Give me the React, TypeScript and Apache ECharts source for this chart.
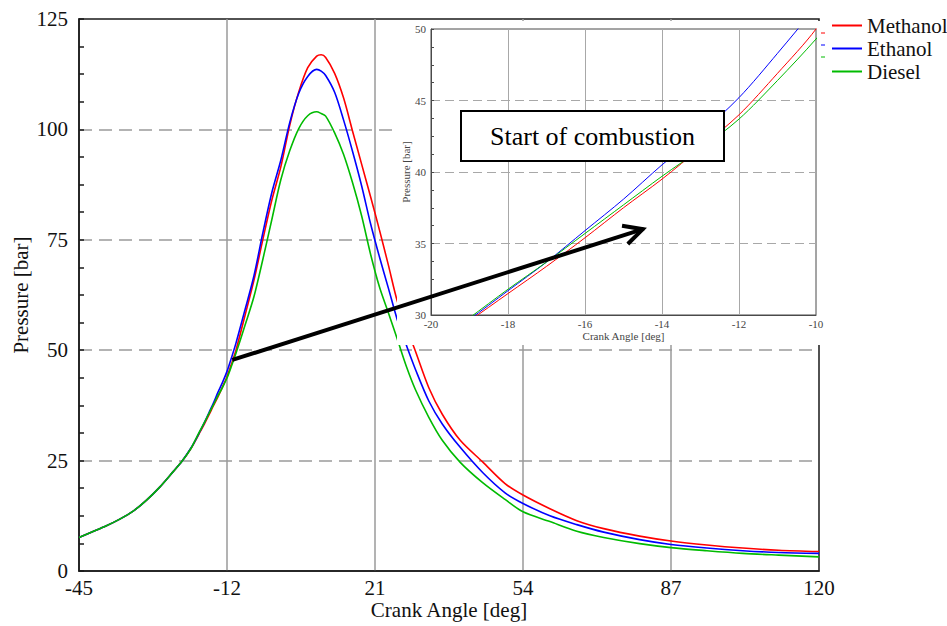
import { useEffect, useRef } from "react";
import * as echarts from "echarts";

// ---- data ----
const crankAngles = [-45, -42, -39, -36, -33, -30, -27, -24, -22, -20, -19, -18, -17, -16, -15, -14, -13, -12, -11, -10, -8, -6, -4, -2, 0, 2, 4, 6, 8, 9, 10, 12, 14, 16, 18, 20, 22, 24, 26, 28, 30, 33, 36, 40, 45, 50, 54, 60, 66, 72, 80, 87, 95, 103, 111, 120];

const methanolPressure = [7.6, 8.9, 10.2, 11.7, 13.5, 16.0, 19.0, 22.5, 24.9, 27.8, 29.6, 31.5, 33.4, 35.4, 37.5, 39.5, 41.7, 44.0, 46.9, 50.0, 57.8, 65.8, 75.1, 84.0, 91.5, 101.0, 108.5, 114.0, 116.6, 116.9, 116.3, 112.7, 107.1, 99.6, 92.2, 84.8, 77.2, 69.2, 61.0, 55.3, 49.8, 41.5, 35.5, 29.6, 24.7, 19.8, 17.2, 14.1, 11.4, 9.6, 7.9, 6.8, 5.9, 5.2, 4.7, 4.4];

const ethanolPressure = [7.6, 8.9, 10.2, 11.7, 13.5, 16.0, 19.0, 22.5, 24.9, 27.9, 29.7, 31.7, 33.7, 35.9, 38.1, 40.5, 42.7, 45.2, 48.3, 51.6, 59.1, 66.8, 76.6, 85.7, 93.0, 101.6, 108.2, 112.0, 113.6, 113.2, 112.2, 108.4, 102.1, 95.0, 87.3, 78.7, 71.1, 64.0, 56.8, 51.1, 45.7, 38.5, 33.3, 28.0, 22.3, 17.7, 15.3, 12.5, 10.5, 8.8, 7.1, 6.0, 5.2, 4.6, 4.2, 4.0];

const dieselPressure = [7.6, 8.9, 10.2, 11.7, 13.5, 16.0, 19.0, 22.5, 24.9, 27.8, 29.8, 31.8, 33.7, 35.7, 37.7, 39.7, 41.6, 43.7, 46.4, 49.3, 55.6, 62.1, 70.6, 79.6, 88.6, 95.2, 100.2, 103.1, 104.0, 103.6, 103.0, 99.2, 94.3, 87.9, 80.5, 71.8, 64.3, 58.4, 52.4, 46.3, 41.1, 34.8, 29.6, 24.6, 20.0, 16.2, 13.4, 11.2, 9.0, 7.6, 6.2, 5.3, 4.6, 4.0, 3.6, 3.2];

const seriesNames = ["Methanol", "Ethanol", "Diesel"];
const seriesColors = ["#ff0000", "#0000ff", "#00bb00"];
const seriesValues = [methanolPressure, ethanolPressure, dieselPressure];

// main axes
const mainXRange = [-45, 120];
const mainXStep = 33;
const mainYRange = [0, 125];
const mainYStep = 25;
// inset axes
const insetXRange = [-20, -10];
const insetXStep = 2;
const insetYRange = [30, 50];
const insetYStep = 5;

const xTitle = "Crank Angle [deg]";
const yTitle = "Pressure [bar]";
const annotationText = "Start of combustion";
// arrow: from a point of the main chart to a point of the inset
const arrowFrom = [-10.8, 47.8];
const arrowTo = [-14.5, 36.0];

const FONT = "Times New Roman";

export default function App() {
  const ref = useRef<HTMLDivElement>(null);

  useEffect(() => {
    if (!ref.current) return;
    const chart = echarts.init(ref.current, undefined, { renderer: "svg" });

    const pairs = (vals: number[]) => crankAngles.map((a, i) => [a, vals[i]]);

    const mainSeries = seriesNames.map((name, i) => ({
      name,
      type: "line",
      xAxisIndex: 0,
      yAxisIndex: 0,
      data: pairs(seriesValues[i]),
      symbol: "none",
      smooth: 0.3,
      lineStyle: { color: seriesColors[i], width: 1.6 },
      itemStyle: { color: seriesColors[i] },
      z: 2,
      silent: true,
    }));
    const insetSeries = seriesNames.map((name, i) => ({
      name,
      type: "line",
      xAxisIndex: 1,
      yAxisIndex: 1,
      data: pairs(seriesValues[i]),
      symbol: "none",
      smooth: 0.3,
      lineStyle: { color: seriesColors[i], width: 1 },
      itemStyle: { color: seriesColors[i] },
      z: 12,
      silent: true,
    }));

    const baseGraphic: any[] = [
      {
        id: "cover",
        type: "rect",
        z: 10,
        silent: true,
        shape: { x: 397, y: 21, width: 428, height: 324 },
        style: { fill: "#ffffff" },
      },
      ...seriesColors.map((c, i) => ({
        id: "dash" + i,
        type: "line",
        z: 20,
        silent: true,
        shape: { x1: 821, y1: 33 + i * 12, x2: 825, y2: 33 + i * 12 },
        style: { stroke: c, lineWidth: 1 },
      })),
    ];

    const option: any = {
      animation: false,
      backgroundColor: "#ffffff",
      textStyle: { fontFamily: FONT },
      title: {
        text: annotationText,
        left: 461,
        top: 111,
        padding: [12, 29, 12, 29],
        backgroundColor: "#ffffff",
        borderColor: "#000000",
        borderWidth: 2,
        z: 20,
        textStyle: { fontFamily: FONT, fontSize: 26, fontWeight: "normal", color: "#000000" },
      },
      legend: {
        data: seriesNames,
        orient: "vertical",
        left: 827,
        top: 10,
        icon: "rect",
        itemWidth: 30,
        itemHeight: 2,
        itemGap: 2,
        selectedMode: false,
        textStyle: { fontSize: 21, fontFamily: FONT, color: "#111111" },
      },
      grid: [
        {
          left: 79,
          top: 19,
          width: 740,
          height: 552,
          containLabel: false,
          outerBoundsMode: "none",
          show: true,
          borderColor: "#1a1a1a",
          borderWidth: 1.5,
          z: 0,
        },
        {
          left: 431,
          top: 29,
          width: 385,
          height: 286,
          containLabel: false,
          outerBoundsMode: "none",
          show: true,
          borderColor: "#4a4a4a",
          borderWidth: 1,
          z: 11,
        },
      ],
      xAxis: [
        {
          type: "value",
          gridIndex: 0,
          min: mainXRange[0],
          max: mainXRange[1],
          interval: mainXStep,
          name: xTitle,
          nameLocation: "middle",
          nameGap: 28,
          nameMoveOverlap: false,
          nameTextStyle: { fontSize: 21, fontFamily: FONT, color: "#111111" },
          axisLine: { show: true, onZero: false, lineStyle: { color: "#1a1a1a", width: 1.5 } },
          axisTick: { show: false },
          axisLabel: { fontSize: 21, lineHeight: 14, fontFamily: FONT, color: "#111111", margin: 10, showMinLabel: true, showMaxLabel: true },
          splitLine: {
            show: true,
            showMinLine: false,
            showMaxLine: false,
            lineStyle: { color: "#9a9a9a", width: 1.5, type: "solid" },
          },
          z: 0,
        },
        {
          type: "value",
          gridIndex: 1,
          min: insetXRange[0],
          max: insetXRange[1],
          interval: insetXStep,
          name: xTitle,
          nameLocation: "middle",
          nameGap: 15,
          nameMoveOverlap: false,
          nameTextStyle: { fontSize: 11, fontFamily: FONT, color: "#444444" },
          axisLine: { show: true, onZero: false, lineStyle: { color: "#4a4a4a", width: 1 } },
          axisTick: { show: false },
          axisLabel: { fontSize: 11, fontFamily: FONT, color: "#444444", margin: 3, showMinLabel: true, showMaxLabel: true },
          splitLine: {
            show: true,
            showMinLine: false,
            showMaxLine: false,
            lineStyle: { color: "#a8a8a8", width: 1, type: "solid" },
          },
          z: 11,
        },
      ],
      yAxis: [
        {
          type: "value",
          gridIndex: 0,
          min: mainYRange[0],
          max: mainYRange[1],
          interval: mainYStep,
          name: yTitle,
          nameLocation: "middle",
          nameGap: 48,
          nameMoveOverlap: false,
          nameTextStyle: { fontSize: 21, fontFamily: FONT, color: "#111111" },
          axisLine: { show: true, onZero: false, lineStyle: { color: "#1a1a1a", width: 1.5 } },
          axisTick: { show: true, inside: true, length: 5, lineStyle: { color: "#1a1a1a", width: 1.5 } },
          minorTick: { show: true, splitNumber: 4, length: 5, lineStyle: { color: "#1a1a1a", width: 1.5 } },
          axisLabel: { fontSize: 21, lineHeight: 14, fontFamily: FONT, color: "#111111", margin: 11 },
          splitLine: {
            show: true,
            showMinLine: false,
            showMaxLine: false,
            lineStyle: { color: "#9a9a9a", width: 1.5, type: [13, 7] },
          },
          z: 0,
        },
        {
          type: "value",
          gridIndex: 1,
          min: insetYRange[0],
          max: insetYRange[1],
          interval: insetYStep,
          name: yTitle,
          nameLocation: "middle",
          nameGap: 20,
          nameMoveOverlap: false,
          nameTextStyle: { fontSize: 11, fontFamily: FONT, color: "#444444" },
          axisLine: { show: true, onZero: false, lineStyle: { color: "#4a4a4a", width: 1 } },
          axisTick: { show: true, inside: true, length: 3, lineStyle: { color: "#4a4a4a", width: 1 } },
          minorTick: { show: true, splitNumber: 4, length: 3, lineStyle: { color: "#4a4a4a", width: 1 } },
          axisLabel: { fontSize: 11, fontFamily: FONT, color: "#444444", margin: 5 },
          splitLine: {
            show: true,
            showMinLine: false,
            showMaxLine: false,
            lineStyle: { color: "#a8a8a8", width: 1, type: [9, 5] },
          },
          z: 11,
        },
      ],
      graphic: { elements: baseGraphic },
      series: [...mainSeries, ...insetSeries],
    };

    chart.setOption(option);

    // arrow from main-chart point to inset point
    const p0 = chart.convertToPixel({ xAxisIndex: 0, yAxisIndex: 0 }, arrowFrom) as number[];
    const p1 = chart.convertToPixel({ xAxisIndex: 1, yAxisIndex: 1 }, arrowTo) as number[];
    if (p0 && p1) {
      const dx = p1[0] - p0[0];
      const dy = p1[1] - p0[1];
      const len = Math.hypot(dx, dy);
      const ux = -dx / len;
      const uy = -dy / len;
      const headLen = 21;
      const ang = (27 * Math.PI) / 180;
      const rot = (a: number) => [
        p1[0] + headLen * (ux * Math.cos(a) - uy * Math.sin(a)),
        p1[1] + headLen * (ux * Math.sin(a) + uy * Math.cos(a)),
      ];
      const arm1 = rot(ang);
      const arm2 = rot(-ang);
      chart.setOption({
        graphic: {
          elements: [
            ...baseGraphic,
            {
              id: "arrowShaft",
              type: "line",
              z: 22,
              silent: true,
              shape: { x1: p0[0], y1: p0[1], x2: p1[0] - ux * 1, y2: p1[1] - uy * 1 },
              style: { stroke: "#000000", lineWidth: 4, lineCap: "butt" },
            },
            {
              id: "arrowHead",
              type: "polyline",
              z: 22,
              silent: true,
              shape: { points: [arm1, p1, arm2] },
              style: { stroke: "#000000", fill: "none", lineWidth: 4, lineJoin: "miter", lineCap: "butt" },
            },
          ],
        },
      });
    }

    return () => {
      chart.dispose();
    };
  }, []);

  return (
    <div
      ref={ref}
      style={{ position: "fixed", left: 0, top: 0, width: 947, height: 626, background: "#ffffff" }}
    />
  );
}
